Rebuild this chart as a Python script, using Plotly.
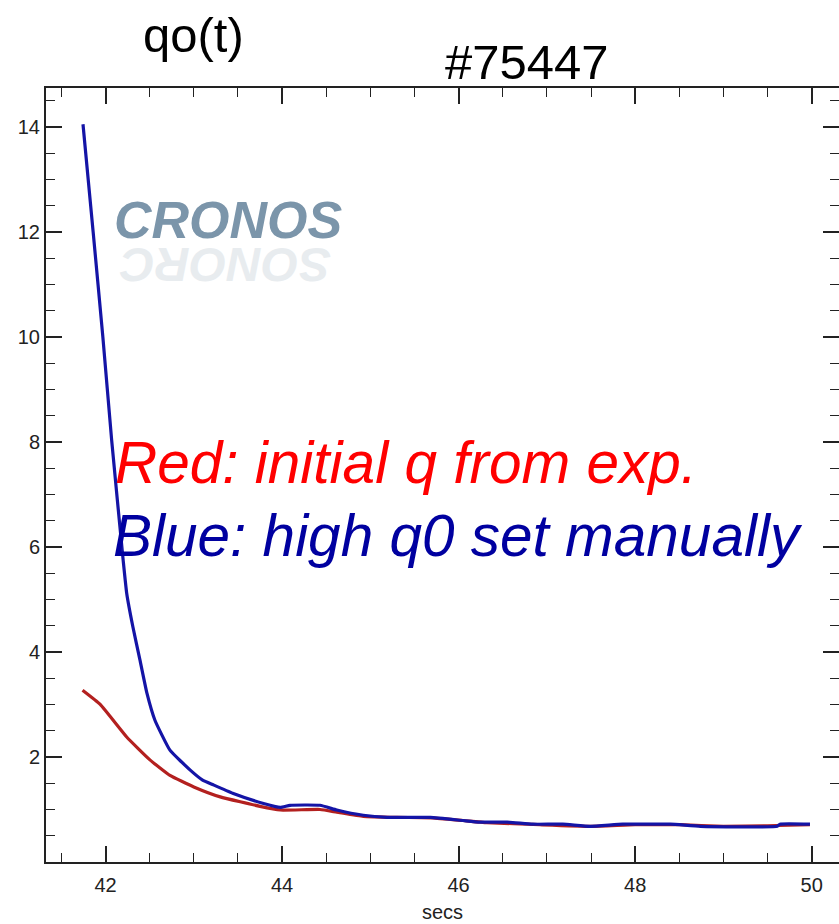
import plotly.graph_objects as go

# q0 time traces (seconds, q0)
t_red = [41.74, 41.94, 42.24, 42.50, 42.73, 43.00, 43.30, 43.75, 43.98, 44.43, 44.62,
         44.92, 45.30, 45.70, 46.05, 46.32, 46.92, 47.50, 48.00, 48.50, 49.00, 49.50, 49.98]
q_red = [3.27, 3.00, 2.38, 1.95, 1.65, 1.43, 1.24, 1.06, 0.99, 1.00, 0.95,
         0.87, 0.85, 0.84, 0.79, 0.75, 0.71, 0.68, 0.71, 0.71, 0.68, 0.69, 0.71]

t_blue = [41.745, 41.86, 41.97, 42.07, 42.20, 42.24, 42.31, 42.39, 42.47, 42.56, 42.73,
          42.96, 43.10, 43.22, 43.44, 43.78, 43.98, 44.09, 44.43, 44.62, 44.92, 45.19,
          45.68, 46.05, 46.24, 46.55, 46.84, 47.18, 47.49, 47.86, 48.40, 48.74, 49.61,
          49.64, 49.98]
q_blue = [14.05, 12.00, 10.00, 8.03, 5.75, 5.12, 4.48, 3.85, 3.21, 2.70, 2.13,
          1.75, 1.56, 1.47, 1.31, 1.12, 1.04, 1.08, 1.08, 0.99, 0.89, 0.85,
          0.85, 0.79, 0.76, 0.76, 0.72, 0.72, 0.68, 0.72, 0.72, 0.68, 0.68,
          0.72, 0.72]

x_range = [41.326, 50.309]
y_range = [0.0, 14.74]
x_ticks = [42, 44, 46, 48, 50]
y_ticks = [2, 4, 6, 8, 10, 12, 14]

W, H = 839, 924
ML, MR, MT, MB = 46, 0, 88, 62
PW, PH = W - ML - MR, H - MT - MB


def px(x):
    return (x - ML) / PW


def py(y):
    return (H - MB - y) / PH


AX = "#222222"
TICKFONT = dict(family="Liberation Sans, Arial", size=20, color="#222222")
MINOR = dict(dtick=0.5, tick0=0, ticks="inside", ticklen=9, tickwidth=1.4,
             tickcolor=AX, showgrid=False)

fig = go.Figure()
fig.add_trace(go.Scatter(x=t_red, y=q_red, mode="lines",
                         line=dict(color="#b3201f", width=3.2, shape="spline",
                                   smoothing=0.4), showlegend=False))
fig.add_trace(go.Scatter(x=t_blue, y=q_blue, mode="lines",
                         line=dict(color="#1414a6", width=3.2, shape="spline",
                                   smoothing=0.4), showlegend=False))
# carrier for the right-hand tick axis
fig.add_trace(go.Scatter(x=t_blue[:1], y=q_blue[:1], yaxis="y2", mode="markers",
                         marker=dict(opacity=0), showlegend=False, hoverinfo="skip"))

fig.update_layout(
    width=W, height=H,
    margin=dict(l=ML, r=MR, t=MT, b=MB),
    paper_bgcolor="white", plot_bgcolor="white",
    xaxis=dict(range=x_range, tickmode="array", tickvals=x_ticks, ticks="inside",
               ticklen=16, tickwidth=1.6, tickcolor=AX, showline=True, linecolor=AX,
               linewidth=2, mirror="ticks", showgrid=False, zeroline=False,
               tickfont=TICKFONT, ticklabelstandoff=4, minor=MINOR,
               title=dict(text="secs", font=TICKFONT, standoff=10)),
    yaxis=dict(range=y_range, tickmode="array", tickvals=y_ticks, ticks="inside",
               ticklen=16, tickwidth=1.6, tickcolor=AX, showline=True, linecolor=AX,
               linewidth=2, mirror=False, showgrid=False, zeroline=False,
               tickfont=TICKFONT, ticklabelstandoff=0, minor=MINOR),
    yaxis2=dict(range=y_range, overlaying="y", side="right", tickmode="array",
                tickvals=y_ticks, ticks="inside", ticklen=16, tickwidth=1.6,
                tickcolor=AX, showline=False, showgrid=False, zeroline=False,
                showticklabels=False, minor=MINOR),
)

TITLE_FONT = dict(family="Liberation Sans, Arial", size=49, color="black")
fig.add_annotation(text="qo(t)", x=px(193), y=py(35), xref="paper", yref="paper",
                   showarrow=False, font=TITLE_FONT, xanchor="center", yanchor="middle")
fig.add_annotation(text="#75447", x=px(527), y=py(62), xref="paper", yref="paper",
                   showarrow=False, font=TITLE_FONT, xanchor="center", yanchor="middle")

# CRONOS badge with a faint reflection
fig.add_annotation(text="<b><i>CRONOS</i></b>", x=px(112), y=py(220), xref="paper",
                   yref="paper", showarrow=False, xanchor="left", yanchor="middle",
                   font=dict(family="Liberation Sans, Arial", size=52, color="#7b95aa"))
fig.add_annotation(text="<b><i>SONORC</i></b>", x=px(225), y=py(265), xref="paper",
                   yref="paper", showarrow=False, xanchor="center", yanchor="middle",
                   textangle=180, opacity=0.2, borderpad=0,
                   font=dict(family="Liberation Sans, Arial", size=48, color="#8fa3b3"))

fig.add_annotation(text="<i>Red: initial q from exp.</i>", x=px(113), y=py(462),
                   xref="paper", yref="paper", showarrow=False, xanchor="left",
                   yanchor="middle",
                   font=dict(family="Liberation Sans, Arial", size=58.5, color="#ff0000"))
fig.add_annotation(text="<i>Blue: high q0 set manually</i>", x=px(111), y=py(535),
                   xref="paper", yref="paper", showarrow=False, xanchor="left",
                   yanchor="middle",
                   font=dict(family="Liberation Sans, Arial", size=58.5, color="#0000a0"))

fig.write_html("out.html")
